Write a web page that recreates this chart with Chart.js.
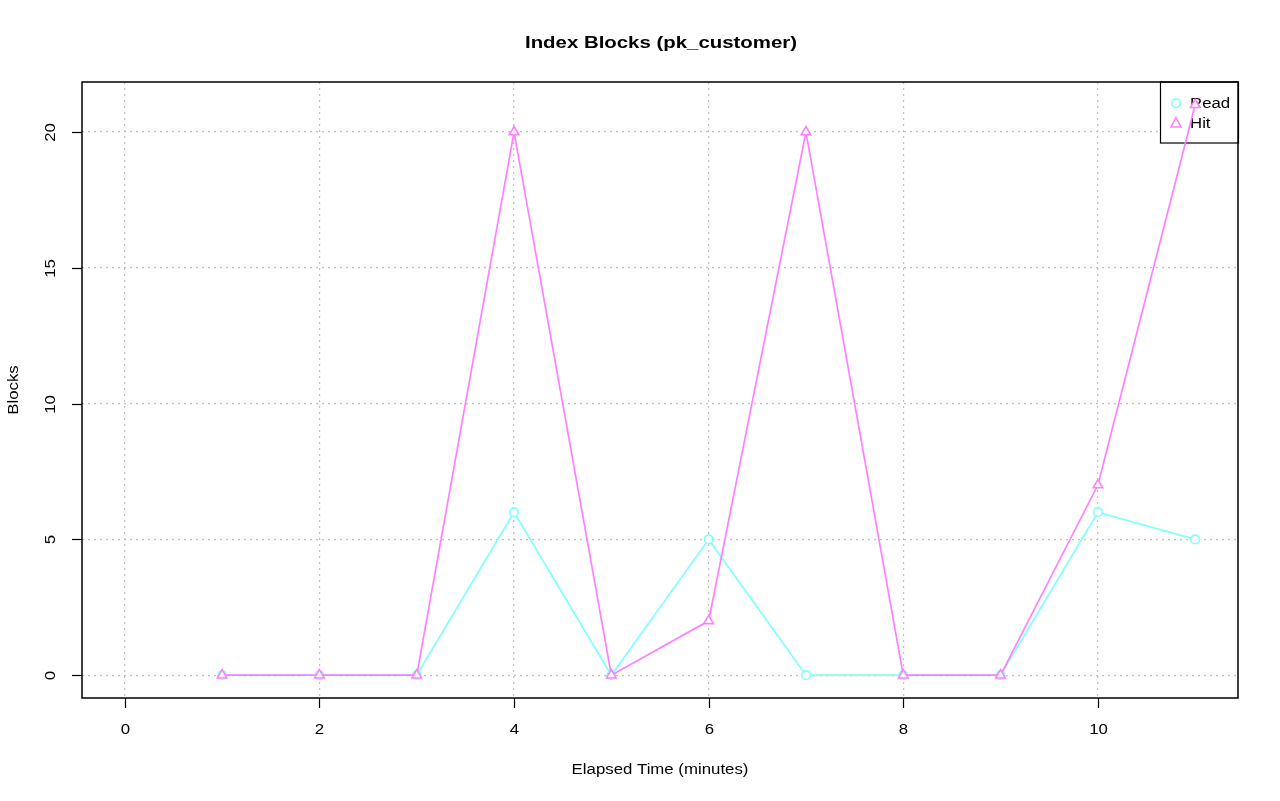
<!DOCTYPE html>
<html><head><meta charset="utf-8">
<script src="https://cdn.jsdelivr.net/npm/chart.js@4/dist/chart.umd.min.js"></script>
<style>html,body{margin:0;padding:0;background:#fff}#wrap{width:1280px;height:801px}</style>
</head><body><div id="wrap"><canvas id="c" width="1280" height="801"></canvas></div>
<script>
const minutes = [1,2,3,4,5,6,7,8,9,10,11];
const readBlocks = [0,0,0,6,0,5,0,0,0,6,5];
const hitBlocks = [0,0,0,20,0,2,20,0,0,7,21];
const xTicks = [0,2,4,6,8,10];
const yTicks = [0,5,10,15,20];
const titleText = 'Index Blocks (pk_customer)';
const xTitle = 'Elapsed Time (minutes)';
const yTitle = 'Blocks';
const seriesNames = ['Read','Hit'];
const readColor = '#80FFFF';
const hitColor = '#FF80FF';
const FONT = '"Liberation Sans", Arial, sans-serif';
const WIDEN = 1.2;

function txt(ctx, s, x, y, font, align, rot) {
  ctx.save();
  ctx.font = font; ctx.textAlign = align; ctx.textBaseline = 'middle';
  ctx.translate(x, y);
  if (rot) ctx.rotate(-Math.PI / 2);
  ctx.scale(WIDEN, 1);
  ctx.fillText(s, 0, 0);
  ctx.restore();
}

const rPlot = {
  id: 'rPlot',
  beforeDatasetsDraw(chart) {
    const ctx = chart.ctx, a = chart.chartArea;
    ctx.save();
    const f = '14px ' + FONT;
    const lx = 1160, ly = a.top, lw = a.right - 1160, lh = 61;
    ctx.fillStyle = '#fff';
    ctx.fillRect(lx, ly, lw, lh);
    ctx.strokeStyle = '#000'; ctx.lineWidth = 1.2;
    ctx.strokeRect(lx + 0.5, ly, lw, lh);
    ctx.lineWidth = 1.6;
    ctx.strokeStyle = readColor;
    ctx.beginPath(); ctx.arc(1176, 103, 4.2, 0, Math.PI * 2); ctx.stroke();
    ctx.strokeStyle = hitColor;
    ctx.beginPath(); ctx.moveTo(1176, 117.5); ctx.lineTo(1181, 127); ctx.lineTo(1171, 127); ctx.closePath(); ctx.stroke();
    ctx.fillStyle = '#000';
    txt(ctx, seriesNames[0], 1190, 104, f, 'left', false);
    txt(ctx, seriesNames[1], 1190, 124, f, 'left', false);
    ctx.restore();
  },
  afterDraw(chart) {
    const ctx = chart.ctx, a = chart.chartArea, xs = chart.scales.x, ys = chart.scales.y;
    ctx.save();
    ctx.strokeStyle = '#000'; ctx.lineWidth = 1.5;
    ctx.strokeRect(a.left, a.top, a.right - a.left, a.bottom - a.top);
    ctx.fillStyle = '#000';
    ctx.lineWidth = 1.2;
    const f = '14px ' + FONT;
    xTicks.forEach(v => {
      const px = Math.round(xs.getPixelForValue(v)) + 0.5;
      ctx.beginPath(); ctx.moveTo(px, a.bottom); ctx.lineTo(px, a.bottom + 10); ctx.stroke();
      txt(ctx, String(v), px, a.bottom + 32, f, 'center', false);
    });
    yTicks.forEach(v => {
      const py = Math.round(ys.getPixelForValue(v)) + 0.5;
      ctx.beginPath(); ctx.moveTo(a.left, py); ctx.lineTo(a.left - 10, py); ctx.stroke();
      txt(ctx, String(v), a.left - 31, py, f, 'center', true);
    });
    txt(ctx, titleText, (a.left + a.right) / 2 + 1, 43, 'bold 17px ' + FONT, 'center', false);
    txt(ctx, xTitle, (a.left + a.right) / 2, 770, f, 'center', false);
    txt(ctx, yTitle, 14, (a.top + a.bottom) / 2, f, 'center', true);
    ctx.restore();
  }
};

const toXY = (arr) => arr.map((v, i) => ({x: minutes[i], y: v}));

new Chart(document.getElementById('c'), {
  type: 'line',
  data: {
    datasets: [
      {label: seriesNames[0], data: toXY(readBlocks), borderColor: readColor, backgroundColor: '#fff', order: 2,
       borderWidth: 1.7, pointStyle: 'circle', pointRadius: 4.3, pointBorderWidth: 1.6, pointBorderColor: readColor, pointBackgroundColor: '#fff', tension: 0},
      {label: seriesNames[1], data: toXY(hitBlocks), borderColor: hitColor, backgroundColor: '#fff', order: 1,
       borderWidth: 1.7, pointStyle: 'triangle', pointRadius: 5.5, pointBorderWidth: 1.6, pointBorderColor: hitColor, pointBackgroundColor: '#fff', tension: 0}
    ]
  },
  options: {
    responsive: false, animation: false,
    layout: {padding: {left: 82, right: 42, top: 82, bottom: 103}},
    plugins: {legend: {display: false}, title: {display: false}, tooltip: {enabled: false}},
    scales: {
      x: {type: 'linear', min: -0.44, max: 11.44,
          afterBuildTicks: (s) => { s.ticks = xTicks.map(v => ({value: v})); },
          ticks: {display: false}, border: {display: false, dash: [2,4]},
          grid: {color: '#c0c0c0', lineWidth: 1.2, drawTicks: false, tickLength: 0}},
      y: {type: 'linear', min: -0.84, max: 21.84,
          afterBuildTicks: (s) => { s.ticks = yTicks.map(v => ({value: v})); },
          ticks: {display: false}, border: {display: false, dash: [2,4]},
          grid: {color: '#c0c0c0', lineWidth: 1.2, drawTicks: false, tickLength: 0}}
    }
  },
  plugins: [rPlot]
});
</script>
</body></html>
